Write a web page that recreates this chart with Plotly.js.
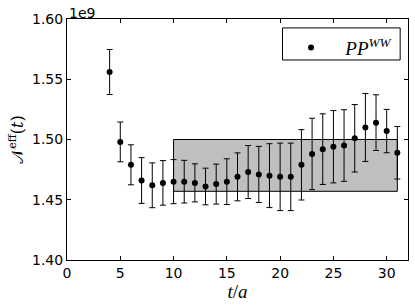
<!DOCTYPE html>
<html><head><meta charset="utf-8">
<script src="https://cdn.plot.ly/plotly-3.0.1.min.js"></script>
<style>body{margin:0;background:#fff}#c{width:415px;height:307px}</style>
</head><body><div id="c"></div>
<script>
// values in units of 1e9
const tVals = [4,5,6,7,8,9,10,11,12,13,14,15,16,17,18,19,20,21,22,23,24,25,26,27,28,29,30,31];
const nEff  = [1.556,1.498,1.479,1.466,1.462,1.464,1.465,1.465,1.464,1.461,1.463,1.465,1.469,1.473,1.471,1.470,1.469,1.469,1.479,1.488,1.492,1.494,1.495,1.501,1.510,1.514,1.507,1.489];
const nErr  = [0.0187,0.0165,0.0166,0.0190,0.0186,0.0185,0.0183,0.0177,0.0158,0.0152,0.0166,0.0190,0.0199,0.0220,0.0233,0.0265,0.0280,0.0280,0.0292,0.0296,0.0293,0.0300,0.0297,0.0280,0.0282,0.0231,0.0180,0.0218];
const fitStart = 10, fitEnd = 31, fitLow = 1.457, fitHigh = 1.500;
const yTicks = [1.40,1.45,1.50,1.55,1.60];
const yTickText = ["1.40","1.45","1.50","1.55","1.60"];
const xTicks = [0,5,10,15,20,25,30];

const tickFont = {family:"DejaVu Sans", size:14, color:"#000"};
const trace = {
  x: tVals, y: nEff, type:"scatter", mode:"markers",
  name: "&nbsp;&nbsp;&nbsp;<i>PP</i><sup><i>WW</i></sup>",
  marker:{color:"#000", size:6},
  error_y:{type:"data", array:nErr, visible:true, color:"#000", thickness:1, width:3}
};
const layout = {
  width:415, height:307,
  margin:{l:67, r:7, t:19, b:47},
  paper_bgcolor:"#fff", plot_bgcolor:"#fff",
  showlegend:true,
  legend:{x:0.657, y:0.96, xanchor:"left", yanchor:"top", bgcolor:"rgba(0,0,0,0)", borderwidth:0,
          font:{family:"Liberation Serif", size:19, color:"#000"}},
  xaxis:{range:[0,32], tickvals:xTicks, ticks:"inside", ticklen:4, tickcolor:"#000",
         showline:true, linecolor:"#000", linewidth:1, mirror:"ticks", showgrid:false, zeroline:false,
         tickfont:tickFont,
         title:{text:"<i>t</i>/<i>a</i>", font:{family:"Liberation Serif", size:19, color:"#000"}, standoff:4}},
  yaxis:{range:[1.40,1.60], tickvals:yTicks, ticktext:yTickText, ticks:"inside", ticklen:4, tickcolor:"#000",
         showline:true, linecolor:"#000", linewidth:1, mirror:"ticks", showgrid:false, zeroline:false,
         tickfont:tickFont,
         title:{text:"𝒩<sup>eff</sup>(<i>t</i>)", font:{family:"DejaVu Serif", size:16, color:"#000"}, standoff:4}},
  shapes:[
    {type:"rect", xref:"x", yref:"y", x0:fitStart, x1:fitEnd, y0:fitLow, y1:fitHigh,
     fillcolor:"#bfbfbf", line:{color:"#000", width:1}, layer:"below"},
    {type:"rect", xref:"paper", yref:"paper", x0:0.632, x1:0.977, y0:0.83, y1:0.963,
     fillcolor:"rgba(0,0,0,0)", line:{color:"#000", width:1}}
  ],
  annotations:[
    {xref:"paper", yref:"paper", x:0, y:1, xanchor:"left", yanchor:"bottom", showarrow:false,
     text:"1e9", font:tickFont, yshift:-4}
  ]
};
Plotly.newPlot("c",[trace],layout,{displayModeBar:false, staticPlot:true});
</script></body></html>
